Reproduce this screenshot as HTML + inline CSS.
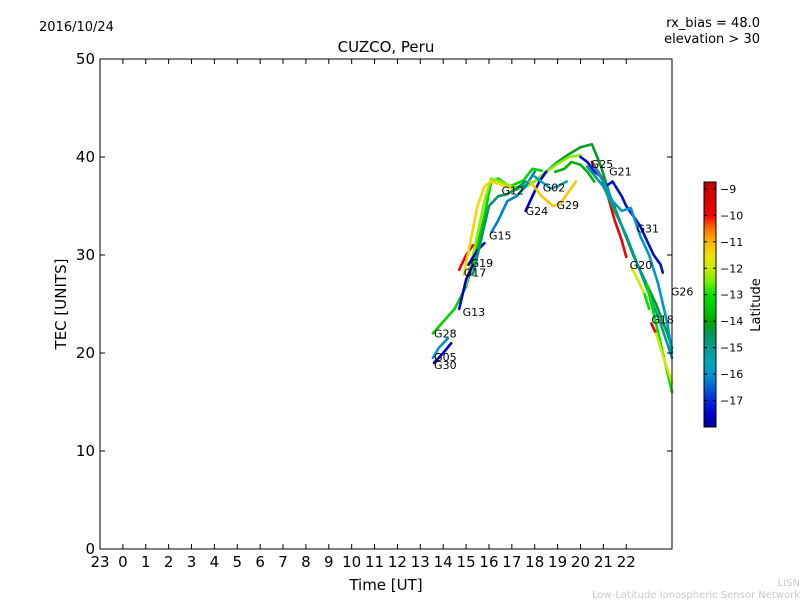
<!DOCTYPE html>
<html><head><meta charset="utf-8"><style>
body{margin:0;background:#fff;}
svg{display:block;font-family:"DejaVu Sans","Liberation Sans",sans-serif;}
</style></head><body>
<svg id="c" width="800" height="600" viewBox="0 0 800 600">
<rect width="800" height="600" fill="#fff"/>
<text x="39" y="31" font-size="13">2016/10/24</text>
<text x="760" y="27" font-size="13" text-anchor="end">rx_bias = 48.0</text>
<text x="760" y="43" font-size="13" text-anchor="end">elevation &gt; 30</text>
<text x="386" y="52" font-size="15" text-anchor="middle">CUZCO, Peru</text>
<text x="386" y="590" font-size="15" text-anchor="middle">Time [UT]</text>
<text transform="translate(66,304) rotate(-90)" font-size="15" text-anchor="middle">TEC [UNITS]</text>
<text x="800" y="586" font-size="10" fill="#c8c8c8" text-anchor="end">LISN</text>
<text x="800" y="598" font-size="10" fill="#c8c8c8" text-anchor="end">Low-Latitude Ionospheric Sensor Network</text>
<g id="tracks"></g>
<g id="labels"></g>
<rect x="100" y="59" width="572" height="490" fill="none" stroke="#000" stroke-width="1"/>
<g id="axes"></g>
<g id="cbar"></g>
<text transform="translate(760,305) rotate(-90)" font-size="13" text-anchor="middle">Latitude</text>
</svg>
<script>
const xTicks=[23,0,1,2,3,4,5,6,7,8,9,10,11,12,13,14,15,16,17,18,19,20,21,22];
const yTicks=[0,10,20,30,40,50];
const cbTicks=[-9,-10,-11,-12,-13,-14,-15,-16,-17];
const trackTimes=[
[13.55,14.0,14.5,15.0,15.4,15.8,16.1,16.4,16.9,17.5,17.9,18.3],
[17.0,17.5,18.0,18.5,19.0,19.5,20.0,20.5,20.9,21.3,21.8,22.3,22.8,23.3,23.8,24.0],
[15.0,15.4,15.8,16.1,16.5,17.0,17.5,18.0,18.5,19.0,19.5,20.0],
[14.7,15.0,15.3],
[16.1,16.4,16.8,17.2,17.6,18.0],
[15.1,15.5,15.8],
[14.7,15.0,15.3],
[13.6,14.0,14.35],
[13.55,13.8,14.2],
[17.6,17.9,18.2,18.5],
[17.8,18.3,18.8,19.1,19.5,19.8],
[18.0,18.4,18.7,19.0,19.4],
[20.0,20.3,20.6,20.9,21.1,21.4,21.8,22.0,22.3,22.6,22.9,23.2,23.5,23.6],
[20.5,20.9,21.2,21.5,21.8,22.0],
[20.6,21.0,21.4,21.8,22.2,22.6,23.0,23.4,23.8,24.0],
[20.3,21.0,21.5,22.0,22.5,23.0,23.5,24.0],
[22.2,22.5,22.8],
[22.8,23.0],
[23.1,23.3,23.5],
[22.9,23.3,23.6,24.0],
[23.3,23.7,24.0],
[14.9,15.2,15.5,15.8,16.1,16.5,17.0],
[15.3,15.7,16.0,16.4,16.8,17.2,17.6],
[18.9,19.3,19.6,20.0,20.3,20.6]
];
const trackTec=[
[22.0,23.2,24.5,26.8,30,34,37.5,37.8,37.0,37.6,38.8,38.6],
[36.5,37,37.5,38.5,39.5,40.3,41,41.3,39,36,33,30,27.5,25,22,20.5],
[27,31,35.5,37.8,37.5,37,36.8,37.5,38.5,39.3,40,40.2],
[28.5,30,31],
[32.3,33.5,35.5,36,37,38.5],
[29,30.5,31.2],
[24.5,27.5,29],
[19,20,21],
[19.5,20.5,21.5],
[34.5,36,37.5,38.5],
[37.5,36,35,35.2,36.5,37.5],
[38,37.3,36.8,37,37.5],
[40,39.5,38.5,38,37,37.5,36,35,34,33,31.5,30,29,28.2],
[39.5,38,36,33.5,31.5,29.8],
[39,37.5,35.5,34.5,34.8,32,30,27,23,20],
[39,37,34.5,32,29,26,23,19.5],
[28.8,27.5,26],
[26,24.5],
[23,22,21],
[27,23,20,16],
[22,19,17],
[28,31.5,35,37,37.5,37.2,36.8],
[28,32,35,36,36.2,36.8,37.5],
[38.5,38.8,39.5,39.2,38.5,37.5]
];
const trackLat=[-13.3,-14.2,-12.4,-10.0,-16.2,-17.6,-17.5,-17.6,-16.0,-17.5,-11.2,-15.5,-17.3,-10.0,-16.0,-15.0,-11.8,-13.0,-9.5,-13.0,-11.8,-11.4,-14.6,-13.8];
const labelNames=["G28","G05","G30","G13","G17","G19","G15","G12","G24","G02","G29","G25","G21","G31","G20","G18","G26"];
const labelTimes=[13.6,13.6,13.6,14.85,14.9,15.2,16.0,16.55,17.6,18.35,18.95,20.45,21.25,22.45,22.15,23.1,23.95];
const labelTec=[22.0,19.6,18.8,24.2,28.2,29.2,32.0,36.6,34.5,36.9,35.1,39.3,38.5,32.7,29.0,23.4,26.3];
const X0=100,X1=672,Y0=549,Y1=59,TMIN=-1,TMAX=24,VMIN=0,VMAX=50;
function xs(t){return X0+(t-TMIN)/(TMAX-TMIN)*(X1-X0);}
function ys(v){return Y0-(v-VMIN)/(VMAX-VMIN)*(Y0-Y1);}
const LMIN=-18,LMAX=-8.74,CB0=427,CB1=182;
function cy(l){return CB0-(l-LMIN)/(LMAX-LMIN)*(CB0-CB1);}
const cmapLat=[-18,-17.5,-17,-16.5,-16,-15.5,-15,-14.5,-14,-13.5,-13,-12.5,-12,-11.5,-11,-10.5,-10,-9.5,-9,-8.74];
const cmapCol=[[0,0,150],[0,0,205],[0,40,220],[0,100,210],[0,150,205],[0,165,180],[0,155,145],[0,150,90],[0,165,0],[0,200,0],[0,225,0],[120,240,0],[200,235,0],[240,225,0],[250,180,0],[255,110,0],[245,0,0],[220,0,0],[205,0,0],[190,0,0]];
function lc(l){
 l=Math.max(LMIN,Math.min(LMAX,l));
 for(let i=0;i<cmapLat.length-1;i++){
  if(l<=cmapLat[i+1]){const f=(l-cmapLat[i])/(cmapLat[i+1]-cmapLat[i]);
   const c=cmapCol[i].map((v,k)=>Math.round(v+(cmapCol[i+1][k]-v)*f));return `rgb(${c})`;}
 }
 return `rgb(${cmapCol[cmapCol.length-1]})`;
}
const NS="http://www.w3.org/2000/svg";
function mk(tag,attrs,parent){const e=document.createElementNS(NS,tag);for(const k in attrs)e.setAttribute(k,attrs[k]);parent.appendChild(e);return e;}
const tg=document.getElementById('tracks');
trackTimes.forEach((ts,i)=>{
 const p=mk('polyline',{points:ts.map((t,j)=>xs(t).toFixed(1)+','+ys(trackTec[i][j]).toFixed(1)).join(' '),fill:'none',stroke:lc(trackLat[i]),'stroke-width':2.6,'stroke-linejoin':'round','stroke-linecap':'round'},tg);
 
 
});
const lg=document.getElementById('labels');
labelNames.forEach((n,i)=>{
 const t=mk('text',{x:xs(labelTimes[i]),y:ys(labelTec[i])+4,'font-size':11},lg);
 t.textContent=n;
 
 
});
const ag=document.getElementById('axes');
xTicks.forEach((lab,i)=>{
 const x=xs(i-1);
 mk('line',{x1:x,x2:x,y1:Y0,y2:Y0-5,stroke:'#000'},ag);
 mk('line',{x1:x,x2:x,y1:Y1,y2:Y1+5,stroke:'#000'},ag);
 const t=mk('text',{x:x,y:567,'font-size':15,'text-anchor':'middle'},ag);
 t.textContent=lab;
 
 
});
yTicks.forEach(v=>{
 const y=ys(v);
 mk('line',{x1:X0,x2:X0+5,y1:y,y2:y,stroke:'#000'},ag);
 mk('line',{x1:X1,x2:X1-5,y1:y,y2:y,stroke:'#000'},ag);
 const t=mk('text',{x:95,y:y+5,'font-size':15,'text-anchor':'end'},ag);
 t.textContent=v;
 
 
});
const cg=document.getElementById('cbar');
const defs=mk('defs',{},cg);
const gr=mk('linearGradient',{id:'jg',x1:0,y1:1,x2:0,y2:0},defs);
cmapLat.forEach(l=>mk('stop',{offset:((l-LMIN)/(LMAX-LMIN)).toFixed(4),'stop-color':lc(l)},gr));
const cr=mk('rect',{x:704,y:CB1,width:12,height:CB0-CB1,fill:'url(#jg)',stroke:'#000'},cg);


cbTicks.forEach(l=>{
 const y=cy(l);
 mk('line',{x1:704,x2:707,y1:y,y2:y,stroke:'#000'},cg);
 mk('line',{x1:716,x2:713,y1:y,y2:y,stroke:'#000'},cg);
 const t=mk('text',{x:720,y:y+4,'font-size':11},cg);
 t.textContent='\u2212'+Math.abs(l);
 
 
});
</script>
</body></html>
